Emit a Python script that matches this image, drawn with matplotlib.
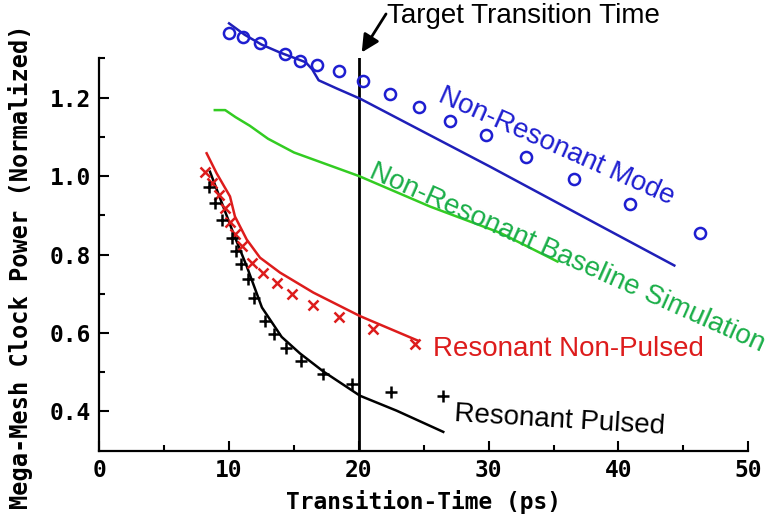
import matplotlib
matplotlib.use("Agg")
import matplotlib.pyplot as plt
from matplotlib.ticker import FixedLocator

# ---------------- data ----------------
# Non-Resonant Mode (measured, circles)
nr_x = [10.0, 11.1, 12.4, 14.3, 15.5, 16.8, 18.5, 20.3, 22.4, 24.6, 27.0, 29.8, 32.9, 36.6, 40.9, 46.3]
nr_y = [1.364, 1.354, 1.340, 1.310, 1.293, 1.282, 1.267, 1.242, 1.210, 1.176, 1.140, 1.104, 1.049, 0.993, 0.929, 0.855]
# Non-Resonant Mode (simulated, line)
nrl_x = [10.0, 11.2, 12.5, 13.9, 15.9, 16.4, 16.9, 18.3, 20.1, 30.1, 38.6, 44.3]
nrl_y = [1.389, 1.360, 1.335, 1.315, 1.290, 1.272, 1.244, 1.223, 1.197, 1.024, 0.873, 0.772]
# Non-Resonant Baseline Simulation
bl_x = [8.9, 9.7, 10.5, 11.6, 13.0, 15.0, 17.5, 20.0, 25.5, 30.9, 35.3]
bl_y = [1.168, 1.168, 1.150, 1.128, 1.095, 1.060, 1.030, 1.000, 0.922, 0.855, 0.782]
# Resonant Non-Pulsed (line and markers)
rn_x = [8.27, 9.04, 10.07, 10.45, 11.36, 12.38, 13.92, 16.49, 20.09, 24.58]
rn_y = [1.058, 1.007, 0.948, 0.897, 0.838, 0.792, 0.754, 0.703, 0.643, 0.580]
rnm_x = [8.14, 8.66, 9.24, 9.68, 10.07, 10.45, 10.97, 11.74, 12.64, 13.67, 14.82, 16.49, 18.49, 21.06, 24.32]
rnm_y = [1.011, 0.982, 0.952, 0.918, 0.884, 0.851, 0.821, 0.779, 0.754, 0.728, 0.699, 0.671, 0.641, 0.610, 0.572]
# Resonant Pulsed (line and markers)
rp_x = [8.53, 9.55, 10.32, 11.36, 12.53, 14.05, 15.46, 17.26, 20.09, 22.91, 26.50]
rp_y = [1.011, 0.922, 0.855, 0.770, 0.665, 0.590, 0.548, 0.502, 0.440, 0.402, 0.348]
rpm_x = [8.47, 8.91, 9.43, 10.20, 10.53, 10.92, 11.48, 11.92, 12.77, 13.48, 14.38, 15.52, 17.26, 19.45, 22.45, 26.50]
rpm_y = [0.973, 0.931, 0.889, 0.842, 0.808, 0.775, 0.737, 0.690, 0.631, 0.597, 0.561, 0.529, 0.496, 0.470, 0.449, 0.439]

target_time = 20
x_major = [0, 10, 20, 30, 40, 50]
x_minor = [5, 15, 25, 35, 45]
y_major = [0.4, 0.6, 0.8, 1.0, 1.2]
y_minor = [0.5, 0.7, 0.9, 1.1, 1.3]
y_labels = ["0.4", "0.6", "0.8", "1.0", "1.2"]

# ---------------- style ----------------
BLUE_LINE = "#1f1fb8"
BLUE = "#1e1ed0"
GREEN_LINE = "#33cc22"
GREEN_TXT = "#1aae48"
RED = "#dd1c1c"
AX_FAMILY = "DejaVu Sans Mono"
ANN_FONT = "Liberation Sans"

fig = plt.figure(figsize=(7.72, 5.21), dpi=100)
ax = fig.add_axes([0.1286, 0.1349, 0.8407, 0.7532])

lw = 1.8
ax.plot(nrl_x, nrl_y, color=BLUE_LINE, lw=lw, clip_on=False, zorder=3)
ax.plot(nr_x, nr_y, ls="none", marker="o", ms=8, mfc="none", mec=BLUE, mew=1.8,
        clip_on=False, zorder=4)
ax.plot(bl_x, bl_y, color=GREEN_LINE, lw=lw, zorder=3)
ax.plot(rn_x, rn_y, color=RED, lw=lw, zorder=3)
ax.plot(rnm_x, rnm_y, ls="none", marker="x", ms=7, mec=RED, mew=1.8, zorder=4)
ax.plot(rp_x, rp_y, color="black", lw=lw, zorder=3)
ax.plot(rpm_x, rpm_y, ls="none", marker="+", ms=9, mec="black", mew=1.8, zorder=4)

ax.axvline(target_time, color="black", lw=2.0, zorder=2)

ax.set_xlim(0, 50)
ax.set_ylim(0.3, 1.3)
for s in ("top", "right"):
    ax.spines[s].set_visible(False)
for s in ("left", "bottom"):
    ax.spines[s].set_linewidth(1.6)

ax.xaxis.set_major_locator(FixedLocator(x_major))
ax.xaxis.set_minor_locator(FixedLocator(x_minor))
ax.yaxis.set_major_locator(FixedLocator(y_major))
ax.yaxis.set_minor_locator(FixedLocator(y_minor))
ax.set_yticklabels(y_labels)
ax.tick_params(which="major", direction="in", length=7, width=1.5, pad=6)
ax.tick_params(which="minor", direction="in", length=4.3, width=1.5)
for lab in ax.get_xticklabels() + ax.get_yticklabels():
    lab.set_fontfamily(AX_FAMILY)
    lab.set_fontweight("bold")
    lab.set_fontsize(16.5)

ax.set_xlabel("Transition-Time (ps)", labelpad=6, family=AX_FAMILY,
              weight="bold", size=16.5)
ax.set_ylabel("Mega-Mesh Clock Power (Normalized)", family=AX_FAMILY,
              weight="bold", size=17)
ax.yaxis.set_label_coords(-0.102, 0.47)

# annotations
fs = 20
ax.text(22.19, 1.389, "Target Transition Time", family=ANN_FONT, fontsize=fs,
        color="black", ha="left", va="baseline", clip_on=False)
ax.annotate("", xy=(20.22, 1.315), xytext=(22.09, 1.413),
            arrowprops=dict(arrowstyle="-|>,head_length=0.7,head_width=0.35",
                            color="black", lw=2, mutation_scale=15,
                            shrinkA=0, shrinkB=0),
            annotation_clip=False)
ax.text(26.0, 1.192, "Non-Resonant Mode", family=ANN_FONT, fontsize=fs,
        color=BLUE, rotation=-24, rotation_mode="anchor", ha="left", va="baseline")
ax.text(20.7, 0.998, "Non-Resonant Baseline Simulation", family=ANN_FONT, fontsize=fs,
        color=GREEN_TXT, rotation=-24, rotation_mode="anchor", ha="left", va="baseline",
        clip_on=False)
ax.text(25.73, 0.542, "Resonant Non-Pulsed", family=ANN_FONT, fontsize=fs,
        color=RED, ha="left", va="baseline")
ax.text(27.33, 0.377, "Resonant Pulsed", family=ANN_FONT, fontsize=fs,
        color="black", rotation=-3.5, rotation_mode="anchor", ha="left", va="baseline")

fig.savefig("out.png", dpi=100)
